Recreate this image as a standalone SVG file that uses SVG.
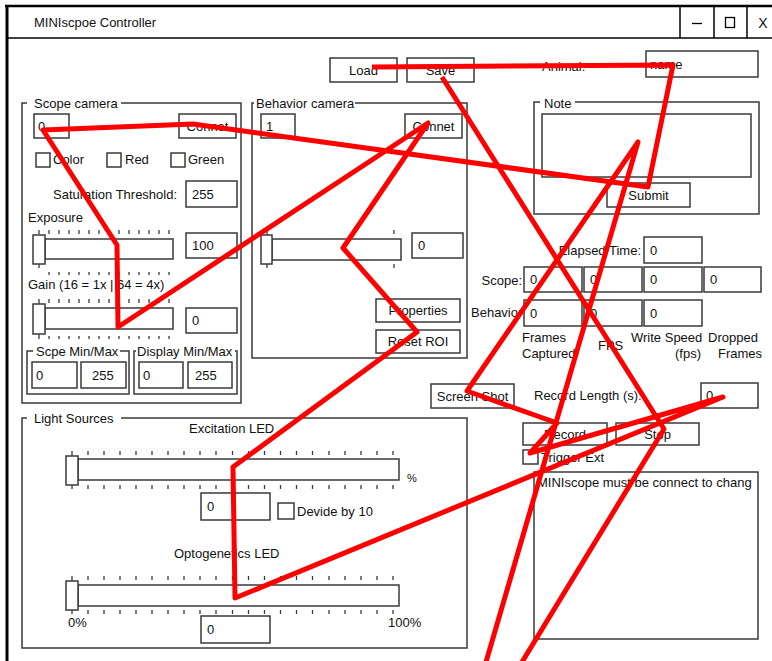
<svg xmlns="http://www.w3.org/2000/svg" width="772" height="661" viewBox="0 0 772 661">
<defs>
<style>
.b{fill:#fff;stroke:#3a3a3a;stroke-width:1.5}
.f{fill:none;stroke:#3a3a3a;stroke-width:1.5}
.m{fill:#fff;stroke:none}
.t{font-family:"Liberation Sans",Arial,sans-serif;font-size:13px;fill:#111}
.c{text-anchor:middle}
.e{text-anchor:end}
.k{fill:none;stroke:#3a3a3a;stroke-width:1.3}
.red{fill:none;stroke:#ff0000;stroke-width:5;stroke-linejoin:round;stroke-linecap:butt}
</style>
<clipPath id="stClip"><rect x="535" y="473" width="222" height="165"/></clipPath>
<clipPath id="capClip"><rect x="515" y="345" width="62" height="20"/></clipPath>
</defs>
<rect width="772" height="661" fill="#fff"/>

<g id="window">
<line x1="5" y1="6" x2="772" y2="6" stroke="#000" stroke-width="2.5"/>
<line x1="7" y1="5" x2="7" y2="661" stroke="#000" stroke-width="3"/>
<line x1="7" y1="38" x2="772" y2="38" stroke="#000" stroke-width="1.5"/>
<line x1="680" y1="7" x2="680" y2="38" stroke="#000" stroke-width="1.5"/>
<line x1="714" y1="7" x2="714" y2="38" stroke="#000" stroke-width="1.5"/>
<line x1="747" y1="7" x2="747" y2="38" stroke="#000" stroke-width="1.5"/>
<text class="t" x="34" y="27">MINIscpoe Controller</text>
<line x1="692" y1="23.5" x2="702" y2="23.5" stroke="#000" stroke-width="1.3"/>
<rect x="725.5" y="17.5" width="9" height="10" fill="none" stroke="#000" stroke-width="1.3"/>
<text class="t c" x="763" y="28" style="font-size:14px">X</text>
</g>

<g id="load"><rect class="b" x="330" y="58" width="67" height="24"/><text class="t c" x="363.5" y="75">Load</text></g>
<g id="save"><rect class="b" x="407" y="58" width="67" height="24"/><text class="t c" x="440.5" y="75">Save</text></g>
<g id="animal"><text class="t" x="542" y="71">Animal:</text><rect class="b" x="646" y="51" width="112" height="26"/><text class="t" x="650" y="69">name</text></g>

<g id="scope-camera">
<rect class="f" x="22" y="103" width="219" height="300"/>
<rect class="m" x="27" y="96" width="94" height="14"/>
<text class="t" x="34" y="108">Scope camera</text>
<rect class="b" x="34" y="114" width="35" height="24"/><text class="t" x="38" y="131">0</text>
<rect class="b" x="179" y="114" width="57" height="24"/><text class="t c" x="207.5" y="131">Connet</text>
<rect class="b" x="36" y="153" width="14" height="14"/><text class="t" x="53" y="164">Color</text>
<rect class="b" x="107" y="153" width="14" height="14"/><text class="t" x="125" y="164">Red</text>
<rect class="b" x="171" y="153" width="14" height="14"/><text class="t" x="188" y="164">Green</text>
<text class="t" x="53" y="199">Saturation Threshold:</text>
<rect class="b" x="186" y="181" width="51" height="26"/><text class="t" x="192" y="199">255</text>
<text class="t" x="28" y="222">Exposure</text>
<path class="k" d="M39 230v4M49 230v4M59 230v4M69 230v4M79 230v4M89 230v4M99 230v4M109 230v4M119 230v4M129 230v4M139 230v4M149 230v4M159 230v4M169 230v4M39 264v4M49 272v3M59 272v3M69 272v3M79 272v3M89 272v3M99 272v3M109 272v3M119 272v3M129 272v3M139 272v3M149 272v3M159 272v3M169 272v3"/>
<rect class="b" x="45" y="239" width="128" height="20"/>
<rect class="b" x="33" y="235" width="12" height="29"/>
<rect class="b" x="186" y="233" width="51" height="25"/><text class="t" x="192" y="250">100</text>
<text class="t" x="28" y="289">Gain (16 = 1x | 64 = 4x)</text>
<path class="k" d="M39 299v5M49 299v4M59 299v4M69 299v4M79 299v4M89 299v4M99 299v4M109 299v4M119 299v4M129 299v4M139 299v4M149 299v4M159 299v4M169 299v4M39 334v5M49 336v3M59 336v3M69 336v3M79 336v3M89 336v3M99 336v3M109 336v3M119 336v3M129 336v3M139 336v3M149 336v3M159 336v3M169 336v3"/>
<rect class="b" x="45" y="308" width="128" height="21"/>
<rect class="b" x="33" y="304" width="12" height="30"/>
<rect class="b" x="186" y="308" width="51" height="25"/><text class="t" x="192" y="325">0</text>
<rect class="f" x="27" y="351" width="102" height="43"/>
<rect class="m" x="33" y="344" width="87" height="14"/>
<text class="t" x="36" y="356">Scpe Min/Max</text>
<rect class="b" x="32" y="362" width="45" height="26"/><text class="t" x="36" y="380">0</text>
<rect class="b" x="81" y="362" width="45" height="26"/><text class="t" x="92" y="380">255</text>
<rect class="f" x="134" y="351" width="103" height="43"/>
<rect class="m" x="136" y="344" width="99" height="14"/>
<text class="t" x="137" y="356">Display Min/Max</text>
<rect class="b" x="139" y="362" width="44" height="26"/><text class="t" x="143" y="380">0</text>
<rect class="b" x="188" y="362" width="44" height="26"/><text class="t" x="195" y="380">255</text>
</g>

<g id="behavior-camera">
<rect class="f" x="252" y="103" width="215" height="255"/>
<rect class="m" x="254" y="96" width="101" height="14"/>
<text class="t" x="256" y="108">Behavior camera</text>
<rect class="b" x="261" y="114" width="34" height="24"/><text class="t" x="266" y="131">1</text>
<rect class="b" x="405" y="114" width="57" height="24"/><text class="t c" x="433.5" y="131">Connet</text>
<path class="k" d="M267 231v4M394 230v4M267 264v4M394 264v4"/>
<rect class="b" x="272" y="239" width="129" height="21"/>
<rect class="b" x="261" y="235" width="11" height="29"/>
<rect class="b" x="412" y="233" width="51" height="25"/><text class="t" x="418" y="250">0</text>
<rect class="b" x="376" y="299" width="84" height="23"/><text class="t c" x="418" y="315">Properties</text>
<rect class="b" x="376" y="330" width="84" height="23"/><text class="t c" x="418" y="346">Reset ROI</text>
</g>

<g id="note">
<rect class="f" x="534" y="102" width="225" height="112"/>
<rect class="m" x="540" y="95" width="35" height="14"/>
<text class="t" x="544" y="108">Note</text>
<rect class="b" x="542" y="114" width="209" height="63"/>
<rect class="b" x="607" y="183" width="83" height="24"/><text class="t c" x="648.5" y="200">Submit</text>
</g>

<g id="stats">
<text class="t e" x="641" y="255">Elapsed Time:</text>
<rect class="b" x="644" y="237" width="58" height="26"/><text class="t" x="650" y="255">0</text>
<text class="t e" x="522" y="285">Scope:</text>
<rect class="b" x="524" y="267" width="58" height="25"/><text class="t" x="530" y="284">0</text>
<rect class="b" x="584" y="267" width="58" height="25"/><text class="t" x="590" y="284">0</text>
<rect class="b" x="644" y="267" width="58" height="25"/><text class="t" x="650" y="284">0</text>
<rect class="b" x="704" y="267" width="57" height="25"/><text class="t" x="710" y="284">0</text>
<text class="t" x="471" y="317">Behavior</text>
<rect class="b" x="524" y="300" width="58" height="26"/><text class="t" x="530" y="318">0</text>
<rect class="b" x="584" y="300" width="58" height="26"/><text class="t" x="590" y="318">0</text>
<rect class="b" x="644" y="300" width="58" height="26"/><text class="t" x="650" y="318">0</text>
<text class="t" x="522" y="342">Frames</text>
<text class="t" x="522" y="358" clip-path="url(#capClip)">Captured</text>
<text class="t" x="598" y="350">FPS</text>
<text class="t" x="631" y="342">Write Speed</text>
<text class="t e" x="701" y="358">(fps)</text>
<text class="t" x="708" y="342">Dropped</text>
<text class="t" x="718" y="358">Frames</text>
</g>

<g id="recording">
<rect class="b" x="431" y="384" width="83" height="24"/><text class="t c" x="472.5" y="401">Screen Shot</text>
<text class="t" x="534" y="400">Record Length (s):</text>
<rect class="b" x="701" y="383" width="57" height="25"/><text class="t" x="706" y="400">0</text>
<rect class="b" x="523" y="423" width="84" height="22"/><text class="t c" x="565" y="439">Record</text>
<rect class="b" x="616" y="423" width="83" height="22"/><text class="t c" x="657.5" y="439">Stop</text>
<rect class="b" x="523" y="450" width="15" height="14"/><text class="t" x="541" y="462">Trigger Ext</text>
<rect class="b" x="534" y="472" width="224" height="167"/>
<text class="t" x="537" y="487" clip-path="url(#stClip)">MINIscope must be connect to chang</text>
</g>

<g id="light-sources">
<rect class="f" x="22" y="418" width="445" height="230"/>
<rect class="m" x="27" y="411" width="94" height="14"/>
<text class="t" x="34" y="423">Light Sources</text>
<text class="t" x="189" y="433">Excitation LED</text>
<path class="k" d="M72 451v5M88 451v4M104 451v4M120 451v4M136 451v4M152 451v4M168 451v4M184 451v4M200 451v4M216 451v4M232.5 451v4M248.5 451v4M264.5 451v4M280.5 451v4M296.5 451v4M312.5 451v4M329 451v4M345 451v4M361 451v4M377 451v4M393 451v4M72 485v4M88 485v4M104 485v4M120 485v4M136 485v4M152 485v4M168 485v4M184 485v4M200 485v4M216 485v4M232.5 485v4M248.5 485v4M264.5 485v4M280.5 485v4M296.5 485v4M312.5 485v4M329 485v4M345 485v4M361 485v4M377 485v4M393 485v4"/>
<rect class="b" x="78" y="459" width="321" height="21"/>
<rect class="b" x="66" y="456" width="12" height="29"/>
<text class="t" x="407" y="482" style="font-size:11px">%</text>
<rect class="b" x="201" y="493" width="69" height="27"/><text class="t" x="207" y="511">0</text>
<rect class="b" x="278" y="503" width="16" height="16"/><text class="t" x="297" y="516">Devide by 10</text>
<text class="t" x="174" y="558">Optogenetics LED</text>
<path class="k" d="M72 576v5M88 576v4M104 576v4M120 576v4M136 576v4M152 576v4M168 576v4M184 576v4M200 576v4M216 576v4M232.5 576v4M248.5 576v4M264.5 576v4M280.5 576v4M296.5 576v4M312.5 576v4M329 576v4M345 576v4M361 576v4M377 576v4M393 576v4M72 610v4M88 610v4M104 610v4M120 610v4M136 610v4M152 610v4M168 610v4M184 610v4M200 610v4M216 610v4M232.5 610v4M248.5 610v4M264.5 610v4M280.5 610v4M296.5 610v4M312.5 610v4M329 610v4M345 610v4M361 610v4M377 610v4M393 610v4"/>
<rect class="b" x="78" y="585" width="321" height="21"/>
<rect class="b" x="66" y="581" width="12" height="29"/>
<text class="t" x="68" y="627">0%</text>
<text class="t" x="388" y="627">100%</text>
<rect class="b" x="201" y="616" width="69" height="27"/><text class="t" x="207" y="634">0</text>
</g>

<g id="connectors">
<polyline class="red" points="372,67 673,65 648,187 193,124 43,130 117,245 118,327 428,123 343,248 417,332 233,467 235,598 723,397 530,453 557,423 467,391 638,142 486,662"/>
<polyline class="red" points="442,77 664,429 522,662"/>
</g>
</svg>
